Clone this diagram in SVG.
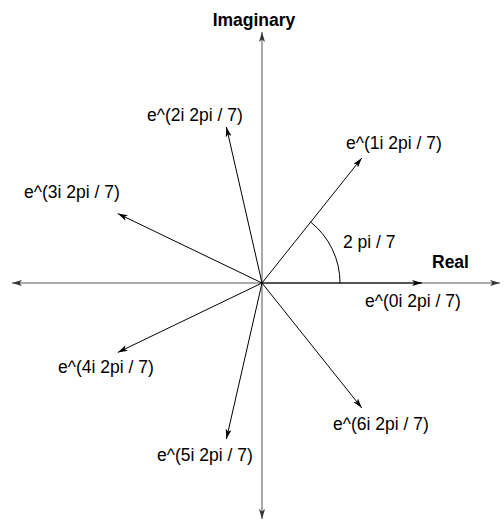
<svg xmlns="http://www.w3.org/2000/svg" width="504" height="521" viewBox="0 0 504 521">
<style>
text{font-family:"Liberation Sans",Arial,sans-serif;font-size:17.5px;fill:#000}
.b{font-weight:bold}
.ax{stroke:#555;stroke-width:1;fill:none}
.v{stroke:#000;stroke-width:1;fill:none}
</style>
<defs>
<marker id="ah" markerUnits="userSpaceOnUse" markerWidth="10" markerHeight="6" refX="10" refY="3" orient="auto" viewBox="0 0 10 6">
<path d="M0,0 L10,3 L0,6 L2.5,3 z" fill="#000"/>
</marker>
<marker id="ahg" markerUnits="userSpaceOnUse" markerWidth="10" markerHeight="6" refX="10" refY="3" orient="auto" viewBox="0 0 10 6">
<path d="M0,0 L10,3 L0,6 L2.5,3 z" fill="#333"/>
</marker>
</defs>
<rect width="504" height="521" fill="#fff"/>
<g id="connectors">
<line class="ax" x1="262" y1="283" x2="500" y2="283" marker-end="url(#ahg)"/>
<line class="ax" x1="262" y1="283" x2="12" y2="283" marker-end="url(#ahg)"/>
<line class="ax" x1="262" y1="283" x2="262" y2="32" marker-end="url(#ahg)"/>
<line class="ax" x1="262" y1="283" x2="262" y2="519" marker-end="url(#ahg)"/>
<line class="v" x1="262" y1="283" x2="422" y2="283" marker-end="url(#ah)"/>
<line class="v" x1="262" y1="283" x2="361.8" y2="158.0" marker-end="url(#ah)"/>
<line class="v" x1="262" y1="283" x2="226.4" y2="127.0" marker-end="url(#ah)"/>
<line class="v" x1="262" y1="283" x2="117.8" y2="213.6" marker-end="url(#ah)"/>
<line class="v" x1="262" y1="283" x2="117.8" y2="352.4" marker-end="url(#ah)"/>
<line class="v" x1="262" y1="283" x2="226.4" y2="439.0" marker-end="url(#ah)"/>
<line class="v" x1="262" y1="283" x2="361.8" y2="408.0" marker-end="url(#ah)"/>
<path class="v" d="M340,283 A78,78 0 0 0 310.6,222.0"/>
</g>
<g id="axis-labels">
<text class="b" x="254" y="26" text-anchor="middle">Imaginary</text>
<text class="b" x="432" y="268">Real</text>
<text x="343" y="248">2 pi / 7</text>
</g>
<g id="labels">
<text x="365" y="307">e^(0i 2pi / 7)</text>
<text x="346" y="149">e^(1i 2pi / 7)</text>
<text x="147" y="121">e^(2i 2pi / 7)</text>
<text x="24" y="198">e^(3i 2pi / 7)</text>
<text x="58" y="373">e^(4i 2pi / 7)</text>
<text x="157" y="461">e^(5i 2pi / 7)</text>
<text x="333" y="430">e^(6i 2pi / 7)</text>
</g>
</svg>
